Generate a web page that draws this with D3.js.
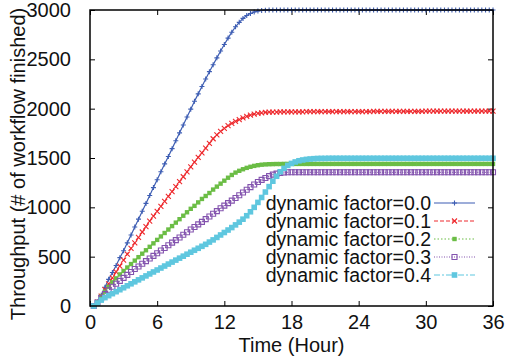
<!DOCTYPE html>
<html>
<head>
<meta charset="utf-8">
<script src="https://cdn.jsdelivr.net/npm/d3@7/dist/d3.min.js"></script>
<style>
  html, body { margin: 0; padding: 0; background: #fff; }
  svg { display: block; font-family: "Liberation Sans", Arial, sans-serif; }
</style>
</head>
<body>
<svg id="chart" width="505" height="362"></svg>
<script>
// Throughput over time for different dynamic factors
const xTicks = [0, 6, 12, 18, 24, 30, 36];
const yTicks = [0, 500, 1000, 1500, 2000, 2500, 3000];
const seriesLabels = [
  'dynamic factor=0.0', 'dynamic factor=0.1', 'dynamic factor=0.2',
  'dynamic factor=0.3', 'dynamic factor=0.4'
];

// samples are taken every 20 minutes, starting at t = 20 min
const stepHours = 1 / 3;

const factor00 = [
  0, 40, 110, 190, 270, 340, 410, 490, 560, 640, 720, 800,
  880, 960, 1040, 1120, 1200, 1280, 1360, 1440, 1515, 1595, 1675, 1755,
  1835, 1915, 1995, 2075, 2150, 2225, 2300, 2375, 2445, 2515, 2585, 2650,
  2715, 2775, 2830, 2875, 2915, 2945, 2965, 2980, 2990, 2995, 2998, 3000,
  3000, 3000, 3000, 3000, 3000, 3000, 3000, 3000, 3000, 3000, 3000, 3000,
  3000, 3000, 3000, 3000, 3000, 3000, 3000, 3000, 3000, 3000, 3000, 3000,
  3000, 3000, 3000, 3000, 3000, 3000, 3000, 3000, 3000, 3000, 3000, 3000,
  3000, 3000, 3000, 3000, 3000, 3000, 3000, 3000, 3000, 3000, 3000, 3000,
  3000, 3000, 3000, 3000, 3000, 3000, 3000, 3000, 3000, 3000, 3000, 3000
];
const factor01 = [
  0, 40, 100, 165, 225, 285, 345, 405, 465, 525, 585, 640,
  695, 750, 805, 860, 910, 960, 1010, 1060, 1110, 1160, 1210, 1260,
  1310, 1360, 1410, 1458, 1506, 1553, 1600, 1648, 1695, 1735, 1770, 1800,
  1828, 1852, 1872, 1890, 1906, 1921, 1934, 1944, 1952, 1958, 1962, 1964,
  1966, 1966, 1967, 1967, 1967, 1968, 1968, 1968, 1968, 1969, 1969, 1969,
  1969, 1970, 1970, 1970, 1970, 1970, 1970, 1970, 1971, 1971, 1971, 1971,
  1971, 1971, 1971, 1972, 1972, 1972, 1972, 1972, 1972, 1972, 1973, 1973,
  1973, 1973, 1973, 1973, 1973, 1974, 1974, 1974, 1974, 1974, 1974, 1974,
  1974, 1974, 1975, 1975, 1975, 1975, 1975, 1975, 1975, 1975, 1975, 1975
];
const factor02 = [
  0, 40, 95, 145, 195, 240, 280, 320, 355, 390, 425, 460,
  495, 530, 565, 600, 635, 670, 705, 740, 775, 810, 845, 880,
  915, 950, 985, 1015, 1050, 1085, 1115, 1145, 1180, 1210, 1240, 1270,
  1300, 1328, 1352, 1370, 1386, 1400, 1411, 1420, 1427, 1432, 1435, 1437,
  1438, 1439, 1439, 1440, 1440, 1440, 1440, 1440, 1440, 1440, 1440, 1440,
  1440, 1440, 1440, 1440, 1440, 1440, 1440, 1440, 1440, 1440, 1440, 1440,
  1440, 1440, 1440, 1440, 1440, 1440, 1440, 1440, 1440, 1440, 1440, 1440,
  1440, 1440, 1440, 1440, 1440, 1440, 1440, 1440, 1440, 1440, 1440, 1440,
  1440, 1440, 1440, 1440, 1440, 1440, 1440, 1440, 1440, 1440, 1440, 1440
];
const factor03 = [
  0, 35, 80, 120, 160, 195, 225, 255, 285, 315, 345, 375,
  400, 428, 455, 482, 508, 535, 562, 588, 615, 642, 668, 695,
  722, 748, 775, 800, 827, 853, 880, 907, 935, 962, 990, 1017,
  1043, 1068, 1095, 1122, 1150, 1178, 1205, 1232, 1256, 1278, 1298, 1316,
  1331, 1342, 1349, 1353, 1355, 1355, 1355, 1355, 1355, 1355, 1355, 1355,
  1355, 1355, 1355, 1355, 1355, 1355, 1355, 1355, 1355, 1355, 1355, 1355,
  1355, 1355, 1355, 1355, 1355, 1355, 1355, 1355, 1355, 1355, 1355, 1355,
  1355, 1355, 1355, 1355, 1355, 1355, 1355, 1355, 1355, 1355, 1355, 1355,
  1355, 1355, 1355, 1355, 1355, 1355, 1355, 1355, 1355, 1355, 1355, 1355
];
const factor04 = [
  0, 30, 60, 85, 105, 125, 145, 165, 185, 205, 225, 245,
  265, 285, 305, 325, 345, 365, 385, 405, 425, 445, 465, 485,
  505, 525, 545, 565, 585, 605, 625, 648, 670, 695, 720, 745,
  770, 795, 822, 850, 880, 915, 955, 1000, 1050, 1100, 1155, 1210,
  1265, 1315, 1360, 1395, 1425, 1445, 1460, 1472, 1480, 1486, 1490, 1493,
  1495, 1496, 1496, 1497, 1497, 1497, 1497, 1497, 1497, 1497, 1497, 1497,
  1497, 1497, 1497, 1497, 1497, 1497, 1497, 1497, 1497, 1497, 1497, 1497,
  1497, 1497, 1497, 1497, 1497, 1497, 1497, 1497, 1497, 1497, 1497, 1497,
  1497, 1497, 1497, 1497, 1497, 1497, 1497, 1497, 1497, 1497, 1497, 1497
];

const seriesValues = [factor00, factor01, factor02, factor03, factor04];

// Per-series look (gnuplot style)
const seriesStyles = [
  { color: '#3d5db3', dash: null, marker: 'plus' },
  { color: '#ee2a2e', dash: '4,2', marker: 'cross' },
  { color: '#6bbd45', dash: '1.5,2', marker: 'fillSquareSmall' },
  { color: '#8353ae', dash: '1,1.5', marker: 'openSquare' },
  { color: '#5fc7df', dash: '6,2,2,2', marker: 'fillSquare' }
];

const width = 505;
const height = 362;
const margin = { top: 10, right: 12, bottom: 56, left: 90 };
const plotW = width - margin.left - margin.right;
const plotH = height - margin.top - margin.bottom;

const svg = d3.select('#chart');

const x = d3.scaleLinear().domain([0, 36]).range([margin.left, margin.left + plotW]);
const y = d3.scaleLinear().domain([0, 3000]).range([margin.top + plotH, margin.top]);

// Helper: marker path centred at (0,0)
const markerPath = (kind) => {
  switch (kind) {
    case 'plus': return 'M-2.5,0H2.5M0,-2.5V2.5';
    case 'cross': return 'M-2.5,-2.5L2.5,2.5M-2.5,2.5L2.5,-2.5';
    case 'fillSquareSmall': return 'M-2.2,-2.2H2.2V2.2H-2.2Z';
    case 'openSquare': return 'M-2.5,-2.5H2.5V2.5H-2.5Z';
    case 'fillSquare': return 'M-2.8,-2.8H2.8V2.8H-2.8Z';
  }
  return '';
};

const applyMarkerStyle = (sel, style) => {
  if (style.marker === 'fillSquare' || style.marker === 'fillSquareSmall') {
    sel.attr('fill', style.color).attr('stroke', 'none');
  } else {
    sel.attr('fill', 'none').attr('stroke', style.color).attr('stroke-width', 1.1);
  }
};

// Axes: ticks point inward on all four sides
const fontSize = '20px';

const xAxisBottom = svg.append('g')
  .attr('transform', `translate(0, ${margin.top + plotH})`)
  .call(d3.axisBottom(x).tickValues(xTicks).tickSize(-5).tickPadding(9));
const xAxisTop = svg.append('g')
  .attr('transform', `translate(0, ${margin.top})`)
  .call(d3.axisTop(x).tickValues(xTicks).tickSize(-5).tickFormat(''));
const yAxisLeft = svg.append('g')
  .attr('transform', `translate(${margin.left}, 0)`)
  .call(d3.axisLeft(y).tickValues(yTicks).tickSize(-5).tickPadding(19).tickFormat(d3.format('d')));
const yAxisRight = svg.append('g')
  .attr('transform', `translate(${margin.left + plotW}, 0)`)
  .call(d3.axisRight(y).tickValues(yTicks).tickSize(-5).tickFormat(''));

[xAxisBottom, xAxisTop, yAxisLeft, yAxisRight].forEach(g => {
  g.select('.domain').remove();
  g.selectAll('line').attr('stroke', '#000').attr('stroke-width', 1);
  g.selectAll('text')
    .attr('fill', '#111')
    .attr('font-size', fontSize)
    .attr('font-family', '"Liberation Sans", Arial, sans-serif');
});

// Series lines and markers
const line = d3.line()
  .x((d, i) => x((i + 1) * stepHours))
  .y(d => y(d));

const seriesGroup = svg.append('g').attr('class', 'series');

seriesValues.forEach((values, s) => {
  const style = seriesStyles[s];
  const g = seriesGroup.append('g');
  g.append('path')
    .datum(values)
    .attr('d', line)
    .attr('fill', 'none')
    .attr('stroke', style.color)
    .attr('stroke-width', 1.2)
    .attr('stroke-dasharray', style.dash);
  const marks = g.selectAll('path.mark')
    .data(values)
    .join('path')
    .attr('class', 'mark')
    .attr('d', markerPath(style.marker))
    .attr('transform', (d, i) => `translate(${x((i + 1) * stepHours)}, ${y(d)})`);
  applyMarkerStyle(marks, style);
});

// Frame
svg.append('rect')
  .attr('x', margin.left)
  .attr('y', margin.top)
  .attr('width', plotW)
  .attr('height', plotH)
  .attr('fill', 'none')
  .attr('stroke', '#000')
  .attr('stroke-width', 1.5);

// Legend
const legend = svg.append('g').attr('class', 'legend');
const legendTextX = 431;
const legendLineX1 = 434;
const legendLineX2 = 475;
const legendTop = 203;
const legendStep = 18;

seriesLabels.forEach((label, s) => {
  const style = seriesStyles[s];
  const cy = legendTop + s * legendStep;
  legend.append('text')
    .attr('x', legendTextX)
    .attr('y', cy + 6.5)
    .attr('text-anchor', 'end')
    .attr('font-size', '19.5px')
    .attr('fill', '#111')
    .text(label);
  legend.append('line')
    .attr('x1', legendLineX1)
    .attr('x2', legendLineX2)
    .attr('y1', cy)
    .attr('y2', cy)
    .attr('stroke', style.color)
    .attr('stroke-width', 1.2)
    .attr('stroke-dasharray', style.dash);
  const m = legend.append('path')
    .attr('d', markerPath(style.marker))
    .attr('transform', `translate(${(legendLineX1 + legendLineX2) / 2}, ${cy})`);
  applyMarkerStyle(m, style);
});

// Axis titles
svg.append('text')
  .attr('x', margin.left + plotW / 2)
  .attr('y', 352)
  .attr('text-anchor', 'middle')
  .attr('font-size', fontSize)
  .attr('fill', '#111')
  .text('Time (Hour)');

svg.append('text')
  .attr('transform', `translate(25, ${margin.top + plotH / 2 + 6}) rotate(-90)`)
  .attr('text-anchor', 'middle')
  .attr('font-size', fontSize)
  .attr('fill', '#111')
  .text('Throughput (# of workflow finished)');
</script>
</body>
</html>
